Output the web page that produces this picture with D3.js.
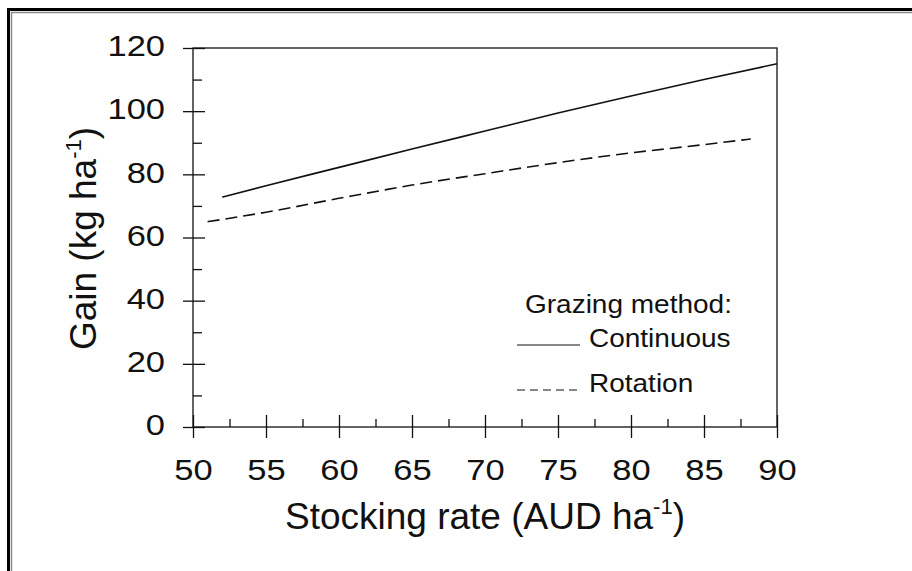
<!DOCTYPE html>
<html>
<head>
<meta charset="utf-8">
<script src="https://cdn.jsdelivr.net/npm/d3@7"></script>
<style>
  html, body { margin: 0; padding: 0; background: #fff; }
  svg { display: block; font-family: "Liberation Sans", Arial, sans-serif; }
</style>
</head>
<body>
<div id="chart"></div>
<script>
/* ---------- Data ---------- */
const continuousX = [52, 55, 60, 65, 70, 75, 80, 85, 90];
const continuousY = [72.8, 76.4, 82.2, 88.0, 93.7, 99.4, 104.8, 110.0, 115.0];
const rotationX   = [51, 55, 60, 65, 70, 75, 80, 85, 88.2];
const rotationY   = [65.0, 68.0, 72.4, 76.6, 80.2, 83.7, 86.8, 89.4, 91.2];
const seriesNames = ["Continuous", "Rotation"];
const xMajor = [50, 55, 60, 65, 70, 75, 80, 85, 90];
const xMinor = [52.5, 57.5, 62.5, 67.5, 72.5, 77.5, 82.5, 87.5];
const yMajor = [0, 20, 40, 60, 80, 100, 120];
const yMinor = [10, 30, 50, 70, 90, 110];
const legendTitle = "Grazing method:";

/* ---------- Layout ---------- */
const W = 912, H = 571;
const M = { top: 48, right: 135, bottom: 144, left: 193 };
const STRETCH = 1.15;   // the scanned tick labels are a bit wider than Arial
const LEG_STRETCH = 1.12;

const svg = d3.select("#chart").append("svg")
  .attr("width", W).attr("height", H)
  .attr("viewBox", `0 0 ${W} ${H}`);

svg.append("rect").attr("width", W).attr("height", H).attr("fill", "#fff");

// scanned frame: thick black + thin grey, runs off right/bottom edge
svg.append("rect")
  .attr("x", 8.5).attr("y", 9.5).attr("width", W + 40).attr("height", H + 40)
  .attr("fill", "none").attr("stroke", "#000").attr("stroke-width", 3);
svg.append("rect")
  .attr("x", 11.5).attr("y", 12.5).attr("width", W + 40).attr("height", H + 40)
  .attr("fill", "none").attr("stroke", "#8a8a8a").attr("stroke-width", 1.5);

const x = d3.scaleLinear().domain([50, 90]).range([M.left, W - M.right]);
const y = d3.scaleLinear().domain([0, 120]).range([H - M.bottom, M.top]);

/* ---------- Axes ---------- */
function plain(g){
  g.select(".domain").remove();
  g.selectAll(".tick line").attr("stroke", "#111").attr("stroke-width", 1.3);
}

// y: outward part of major ticks + labels
svg.append("g")
  .attr("transform", `translate(${M.left},0)`)
  .call(d3.axisLeft(y).tickValues(yMajor).tickSize(10).tickPadding(0))
  .call(plain)
  .call(g => g.selectAll(".tick text")
    .attr("x", 0).attr("dy", "0.26em")
    .attr("transform", `translate(-28,0) scale(${STRETCH},1)`)
    .attr("font-size", 30).attr("fill", "#111"));
// y: inward part of major ticks, and minor ticks
svg.append("g")
  .attr("transform", `translate(${M.left},0)`)
  .call(d3.axisRight(y).tickValues(yMajor).tickSize(12).tickFormat(""))
  .call(plain);
svg.append("g")
  .attr("transform", `translate(${M.left},0)`)
  .call(d3.axisRight(y).tickValues(yMinor).tickSize(9).tickFormat(""))
  .call(plain);

// x: outward part of major ticks + labels
svg.append("g")
  .attr("transform", `translate(0,${H - M.bottom})`)
  .call(d3.axisBottom(x).tickValues(xMajor).tickSize(11))
  .call(plain)
  .call(g => g.selectAll(".tick text")
    .attr("y", 0).attr("dy", 0)
    .attr("transform", `translate(0,53) scale(${STRETCH},1)`)
    .attr("font-size", 30).attr("fill", "#111"));
svg.append("g")
  .attr("transform", `translate(0,${H - M.bottom})`)
  .call(d3.axisTop(x).tickValues(xMajor).tickSize(12).tickFormat(""))
  .call(plain);
svg.append("g")
  .attr("transform", `translate(0,${H - M.bottom})`)
  .call(d3.axisTop(x).tickValues(xMinor).tickSize(8).tickFormat(""))
  .call(plain);

// plot box
svg.append("rect")
  .attr("x", M.left).attr("y", M.top)
  .attr("width", W - M.left - M.right).attr("height", H - M.top - M.bottom)
  .attr("fill", "none").attr("stroke", "#111").attr("stroke-width", 1.3);

/* ---------- Axis titles ---------- */
const xt = svg.append("text")
  .attr("x", (M.left + W - M.right) / 2).attr("y", 529)
  .attr("text-anchor", "middle").attr("font-size", 37).attr("fill", "#111");
xt.append("tspan").text("Stocking rate (AUD ha");
xt.append("tspan").attr("font-size", 22).attr("dy", -15).text("-1");
xt.append("tspan").attr("dy", 15).text(")");

const yt = svg.append("text")
  .attr("transform", `translate(96,${(M.top + H - M.bottom) / 2 + 1}) rotate(-90)`)
  .attr("text-anchor", "middle").attr("font-size", 37).attr("fill", "#111");
yt.append("tspan").text("Gain (kg ha");
yt.append("tspan").attr("font-size", 22).attr("dy", -15).text("-1");
yt.append("tspan").attr("dy", 15).text(")");

/* ---------- Lines ---------- */
const series = [
  { name: seriesNames[0], xs: continuousX, ys: continuousY, dash: null },
  { name: seriesNames[1], xs: rotationX,   ys: rotationY,   dash: "12,6" }
];
const line = d3.line().x(d => x(d[0])).y(d => y(d[1])).curve(d3.curveMonotoneX);

svg.append("g").selectAll("path")
  .data(series)
  .join("path")
    .attr("d", s => line(d3.zip(s.xs, s.ys)))
    .attr("fill", "none")
    .attr("stroke", "#111")
    .attr("stroke-width", 1.6)
    .attr("stroke-dasharray", s => s.dash);

/* ---------- Legend ---------- */
const lg = svg.append("g");
lg.append("text")
  .attr("transform", `translate(525,313) scale(${LEG_STRETCH},1)`)
  .attr("font-size", 25).attr("fill", "#111").text(legendTitle);

const item = lg.selectAll("g.item")
  .data(series)
  .join("g")
    .attr("class", "item")
    .attr("transform", (d, i) => `translate(0,${i * 45})`);
item.append("line")
  .attr("x1", 517).attr("x2", 580).attr("y1", 345).attr("y2", 345)
  .attr("stroke", "#111").attr("stroke-width", 1.2)
  .attr("stroke-dasharray", d => d.dash ? "8,5" : null);
item.append("text")
  .attr("transform", `translate(589,347) scale(${LEG_STRETCH},1)`)
  .attr("font-size", 25).attr("fill", "#111")
  .text(d => d.name);
</script>
</body>
</html>
